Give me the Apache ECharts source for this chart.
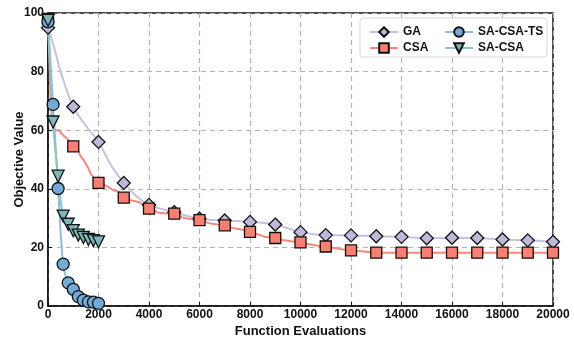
<!DOCTYPE html>
<html>
<head>
<meta charset="utf-8">
<script src="https://cdn.jsdelivr.net/npm/echarts@6/dist/echarts.min.js"></script>
<style>
  html, body { margin: 0; padding: 0; background: #fff; }
  #chart { width: 574px; height: 342px; }
</style>
</head>
<body>
<div id="chart"></div>
<script>
// Convergence of four optimisers: objective value vs. function evaluations.
const xTicks = [0, 2000, 4000, 6000, 8000, 10000, 12000, 14000, 16000, 18000, 20000];
const yTicks = [0, 20, 40, 60, 80, 100];

// GA: curve points (markers sit on every 1000 evaluations)
const gaEvals = [0, 250, 500, 1000, 1500, 2000, 2500, 3000, 3500, 4000, 5000, 6000, 7000, 8000,
  9000, 10000, 11000, 12000, 13000, 14000, 15000, 16000, 17000, 18000, 19000, 20000];
const gaValues = [95, 88, 80, 68, 61.5, 56, 48, 42, 37.5, 34.5, 32, 29.8, 29.2, 28.7,
  27.8, 25.2, 24.2, 24.1, 23.8, 23.6, 23.1, 23.3, 23.2, 22.7, 22.4, 21.9];

// CSA: stepwise best-so-far trace
const csaEvals = [0, 50, 100, 150, 200, 300, 450, 500, 600, 700, 800, 900, 1000, 1100, 1200, 1300,
  1400, 1500, 1600, 1700, 1800, 1900, 2000, 2200, 2400, 2600, 2800, 3000, 3300, 3600, 4000,
  4400, 4700, 5000, 5400, 5700, 6000, 6400, 6700, 7000, 7400, 7700, 8000, 8300, 8600, 9000,
  9300, 9700, 10000, 10400, 10700, 11000, 11400, 11700, 12000, 12400, 12700, 13000, 14000,
  15000, 16000, 17000, 18000, 19000, 20000];
const csaValues = [98, 85, 72, 64, 61, 60, 60, 59.2, 58.3, 57.5, 56.8, 55.5, 54.5, 53.5, 53, 51,
  50, 48.5, 47, 45, 44, 43, 42, 41.5, 40.5, 39.5, 39, 37, 36, 35.5, 33.2,
  31.8, 31.6, 31.5, 30, 29.6, 29.3, 28.2, 27.8, 27.5, 26.5, 26, 25.3, 24.5, 23.6, 23.2,
  22.5, 22, 21.7, 21, 20.6, 20.3, 19.7, 19.3, 19.0, 18.7, 18.4, 18.2, 18.2,
  18.2, 18.2, 18.2, 18.2, 18.2, 18.2];

// SA-CSA-TS and SA-CSA: sampled every 200 evaluations
const saEvals = [0, 200, 400, 600, 800, 1000, 1200, 1400, 1600, 1800, 2000];
const saCsaTsValues = [97, 68.8, 40.1, 14.3, 7.9, 5.7, 3.2, 2.0, 1.4, 1.3, 0.9];
const saCsaValues = [97.5, 62.8, 44.3, 30.7, 27.9, 25.7, 24.2, 23.4, 22.7, 22.3, 21.9];

const markEvery = 1000;

function withMarkers(evals, values, step) {
  return evals.map((x, i) => {
    const item = { value: [x, values[i]] };
    if (x % step !== 0) item.symbol = 'none';
    return item;
  });
}

const FONT = '"Liberation Sans", Arial, sans-serif';

function lineSeries(name, data, lineColor, fill, symbol, size, smooth, extra) {
  return Object.assign({
    name: name,
    type: 'line',
    data: data,
    smooth: smooth,
    symbol: symbol,
    symbolSize: size,
    showAllSymbol: true,
    lineStyle: { color: lineColor, width: 2 },
    itemStyle: { color: fill, borderColor: '#111', borderWidth: 1.3 },
    emphasis: { disabled: true },
    animation: false,
    clip: false
  }, extra || {});
}

const chart = echarts.init(document.getElementById('chart'), null, { renderer: 'canvas' });

const legendText = { fontFamily: FONT, fontWeight: 'bold', fontSize: 12, color: '#111' };

chart.setOption({
  backgroundColor: '#fff',
  animation: false,
  grid: {
    left: 48, right: 21, top: 13, bottom: 36,
    containLabel: false,
    outerBoundsMode: 'none',
    show: true, borderColor: '#111', borderWidth: 1.5, backgroundColor: 'transparent'
  },
  graphic: [{
    type: 'rect',
    shape: { x: 360, y: 18, width: 187, height: 39, r: 3 },
    style: { fill: 'rgba(255,255,255,0.85)', stroke: '#d6d6d6', lineWidth: 1 },
    z: 100
  }],
  legend: [{
    data: ['GA', 'CSA'],
    orient: 'vertical',
    left: 364, top: 21,
    itemWidth: 28, itemHeight: 12, itemGap: 4,
    textStyle: legendText,
    z: 101
  }, {
    data: ['SA-CSA-TS', 'SA-CSA'],
    orient: 'vertical',
    left: 439, top: 21,
    itemWidth: 28, itemHeight: 12, itemGap: 4,
    textStyle: legendText,
    z: 101
  }],
  xAxis: {
    type: 'value',
    min: 0, max: 20000, interval: 2000,
    name: 'Function Evaluations',
    nameLocation: 'middle',
    nameGap: 19,
    nameMoveOverlap: false,
    nameTextStyle: { fontFamily: FONT, fontWeight: 'bold', fontSize: 13, color: '#111' },
    axisLine: { show: true, lineStyle: { color: '#111', width: 1.5 } },
    axisTick: { show: true, inside: true, length: 4, lineStyle: { color: '#111' } },
    axisLabel: {
      fontFamily: FONT, fontWeight: 'bold', fontSize: 12, color: '#111', margin: 3,
      formatter: v => xTicks.includes(v) ? String(v) : ''
    },
    splitLine: { show: true, lineStyle: { color: '#b3b3b3', type: [5, 4], width: 1.2 } }
  },
  yAxis: {
    type: 'value',
    min: 0, max: 100, interval: 20,
    name: 'Objective Value',
    nameLocation: 'middle',
    nameGap: 22,
    nameMoveOverlap: false,
    nameTextStyle: { fontFamily: FONT, fontWeight: 'bold', fontSize: 13, color: '#111' },
    axisLine: { show: true, lineStyle: { color: '#111', width: 1.5 } },
    axisTick: { show: true, inside: true, length: 4, lineStyle: { color: '#111' } },
    axisLabel: {
      fontFamily: FONT, fontWeight: 'bold', fontSize: 12, color: '#111', margin: 4,
      formatter: v => yTicks.includes(v) ? String(v) : ''
    },
    splitLine: { show: true, lineStyle: { color: '#b3b3b3', type: [5, 4], width: 1.2 } }
  },
  series: [
    lineSeries('GA', withMarkers(gaEvals, gaValues, markEvery),
      '#c5c1e0', '#bdb9da', 'diamond', 13, 0.35),
    lineSeries('CSA', withMarkers(csaEvals, csaValues, markEvery),
      '#f8877a', '#fa7f70', 'rect', 11, false),
    lineSeries('SA-CSA-TS', withMarkers(saEvals, saCsaTsValues, 200),
      '#8ebedf', '#72abd6', 'circle', 12, 0.3),
    lineSeries('SA-CSA', withMarkers(saEvals, saCsaValues, 200),
      '#8dc3c6', '#7db7ba', 'triangle', 12, 0.3, { symbolRotate: 180 })
  ]
});
</script>
</body>
</html>
